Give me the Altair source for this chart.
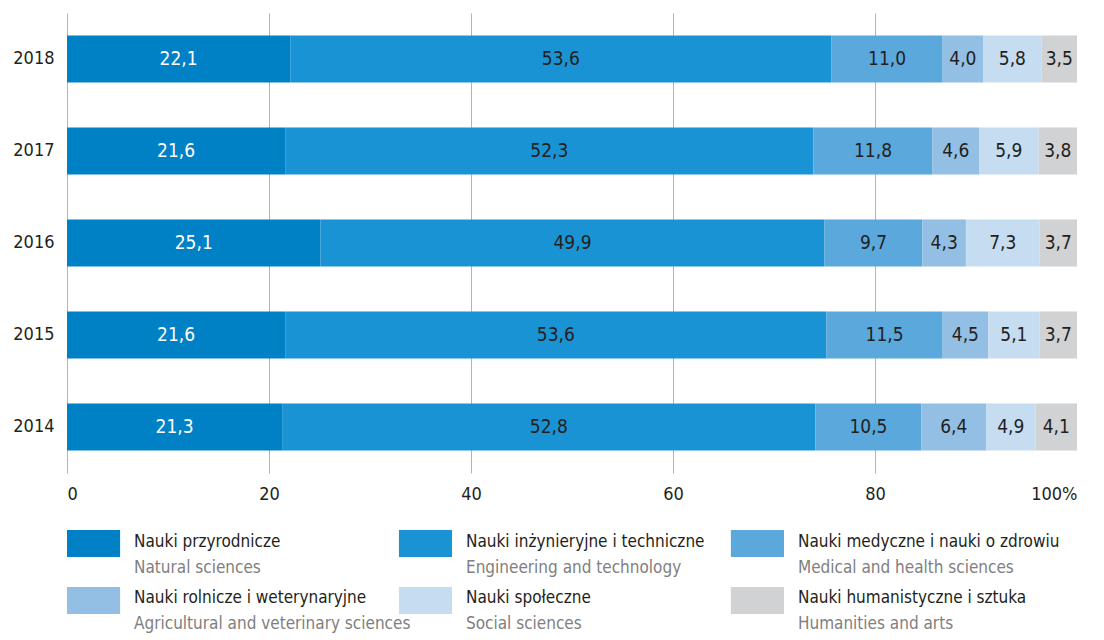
import altair as alt
import pandas as pd

years = ["2018", "2017", "2016", "2015", "2014"]
cat_pl = ["Nauki przyrodnicze", "Nauki inżynieryjne i techniczne", "Nauki medyczne i nauki o zdrowiu",
          "Nauki rolnicze i weterynaryjne", "Nauki społeczne", "Nauki humanistyczne i sztuka"]
cat_en = ["Natural sciences", "Engineering and technology", "Medical and health sciences",
          "Agricultural and veterinary sciences", "Social sciences", "Humanities and arts"]
colors = ["#0081c6", "#1993d4", "#5ba8dc", "#94bfe4", "#c5dcf1", "#d1d2d4"]

natural = [22.1, 21.6, 25.1, 21.6, 21.3]
engineering = [53.6, 52.3, 49.9, 53.6, 52.8]
medical = [11.0, 11.8, 9.7, 11.5, 10.5]
agricultural = [4.0, 4.6, 4.3, 4.5, 6.4]
social = [5.8, 5.9, 7.3, 5.1, 4.9]
humanities = [3.5, 3.8, 3.7, 3.7, 4.1]

series = [natural, engineering, medical, agricultural, social, humanities]
rows = []
for ci, vals in enumerate(series):
    for yi, y in enumerate(years):
        rows.append({"year": y, "cat": cat_pl[ci], "order": ci, "value": vals[yi]})
df = pd.DataFrame(rows)

FONT = "'Liberation Sans Narrow', 'DejaVu Sans Condensed', 'Roboto Condensed', 'Arial Narrow', sans-serif"
DARK = "#231f20"

color_scale = alt.Scale(domain=cat_pl, range=colors)

base = alt.Chart(df).transform_stack(
    stack="value", groupby=["year"], as_=["v0", "v1"], sort=[alt.SortField("order")]
).transform_calculate(
    mid="(datum.v0 + datum.v1) / 2",
    label="replace(format(datum.value, '.1f'), '.', ',')",
)

yenc = alt.Y("year:N", sort=years, title=None,
             scale=alt.Scale(paddingInner=0.49, paddingOuter=0.245),
             axis=alt.Axis(labelFont=FONT, labelFontSize=18, labelColor=DARK,
                           ticks=False, domain=False, labelPadding=13))

bars = base.mark_bar().encode(
    x=alt.X("v0:Q", title=None, scale=alt.Scale(domain=[0, 100], nice=False),
            axis=alt.Axis(values=[0, 20, 40, 60, 80, 100], grid=True, gridColor="#b3b3b3",
                          gridWidth=1, ticks=False, domain=False,
                          labelExpr="datum.value == 100 ? '100%' : datum.label",
                          labelFont=FONT, labelFontSize=18, labelColor=DARK, labelPadding=12)),
    x2="v1:Q",
    y=yenc,
    color=alt.Color("cat:N", scale=color_scale, legend=None),
)

texts = base.mark_text(font=FONT, fontSize=19, baseline="middle", align="center").encode(
    x="mid:Q",
    y=alt.Y("year:N", sort=years),
    text="label:N",
    color=alt.condition("datum.order == 0", alt.value("#ffffff"), alt.value(DARK)),
)

main = alt.layer(bars, texts).properties(width=1010, height=460)

leg_df = pd.DataFrame({
    "pl": cat_pl,
    "en": cat_en,
    "col": [i % 3 for i in range(6)],
    "row": [i // 3 for i in range(6)],
})

lx = alt.X("col:O", axis=None, scale=alt.Scale(paddingInner=0.84, paddingOuter=0))
ly = alt.Y("row:O", axis=None, scale=alt.Scale(paddingInner=0.526, paddingOuter=0))

leg_base = alt.Chart(leg_df)
swatch = leg_base.mark_bar().encode(
    x=lx, y=ly,
    color=alt.Color("pl:N", scale=color_scale, legend=None),
)
t_pl = leg_base.mark_text(font=FONT, fontSize=17, align="left", baseline="middle",
                          dx=40.5, dy=-2, color=DARK).encode(x=lx, y=ly, text="pl:N")
t_en = leg_base.mark_text(font=FONT, fontSize=17, align="left", baseline="middle",
                          dx=40.5, dy=24, color="#808080").encode(x=lx, y=ly, text="en:N")

legend = alt.layer(swatch, t_pl, t_en).properties(width=717, height=84)

chart = alt.vconcat(main, legend, spacing=27).properties(
    padding={"left": 4, "top": 5, "right": 0, "bottom": 0},
    background="white",
).configure_view(stroke=None)

chart.save("out.html", embed_options={"renderer": "svg", "actions": False})
